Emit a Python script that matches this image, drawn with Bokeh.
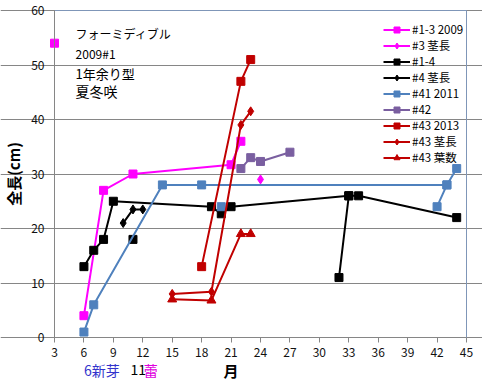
from bokeh.plotting import figure
from bokeh.models import Range1d, FixedTicker, Label, Legend, LegendItem, LinearAxis
from bokeh.embed import file_html
from bokeh.resources import INLINE

nan = float("nan")
FONT = "Noto Sans CJK JP"

# ---- data (x = 月, y = 全長 cm); nan breaks a line ----
x_13_2009 = [3, nan, 6, 8, 11, 21, 22]
y_13_2009 = [54, nan, 4, 27, 30, 31.7, 36]

x_3_stem = [24]
y_3_stem = [29]

x_14 = [6, 7, 8, 9, 19, 20, 21, 33, 34, 44, nan, 32, 33, nan, 11]
y_14 = [13, 16, 18, 25, 24, 22.7, 24, 26, 26, 22, nan, 11, 26, nan, 18]

x_4_stem = [10, 11, 12]
y_4_stem = [21, 23.5, 23.5]

x_41_2011 = [6, 7, 14, 18, 43, 44, nan, 42, 43, nan, 20]
y_41_2011 = [1, 6, 28, 28, 28, 31, nan, 24, 28, nan, 24]

x_42 = [22, 23, 24, 27]
y_42 = [31, 33, 32.3, 34]

x_43_2013 = [18, 22, 23]
y_43_2013 = [13, 47, 51]

x_43_stem = [15, 19, 22, 23]
y_43_stem = [8, 8.4, 39, 41.5]

x_43_leaf = [15, 19, 22, 23]
y_43_leaf = [7, 6.8, 19, 19]

x_ticks = list(range(3, 46, 3))
y_ticks = [0, 10, 20, 30, 40, 50, 60]
X_MIN, X_MAX = 3, 45
Y_MIN, Y_MAX = 0, 60

series = [
    ("#1-3 2009", x_13_2009, y_13_2009, "#FF00FF", "square", 8),
    ("#3 茎長", x_3_stem, y_3_stem, "#FF00FF", "diamond", 9),
    ("#1-4", x_14, y_14, "#000000", "square", 8),
    ("#4 茎長", x_4_stem, y_4_stem, "#000000", "diamond", 9),
    ("#41 2011", x_41_2011, y_41_2011, "#4F81BD", "square", 8),
    ("#42", x_42, y_42, "#7A5FA0", "square", 8),
    ("#43 2013", x_43_2013, y_43_2013, "#C00000", "square", 8),
    ("#43 茎長", x_43_stem, y_43_stem, "#C00000", "diamond", 9),
    ("#43 葉数", x_43_leaf, y_43_leaf, "#C00000", "triangle", 9),
]

BORDER = "#7F96B8"
AXIS = "#868686"

# The frame fills the whole canvas; the plotting area (3..45, 0..60) sits at
# 54..466 px horizontally and 10..337 px vertically, so texts outside it are not clipped.
W, H = 482, 385
L, R, T, B = 54, 466, 10, 337
ux = (R - L) / (X_MAX - X_MIN)
uy = (B - T) / (Y_MAX - Y_MIN)
p = figure(width=W, height=H, output_backend="svg", toolbar_location=None,
           x_range=Range1d(X_MIN - L / ux, X_MAX + (W - R) / ux),
           y_range=Range1d(Y_MIN - (H - B) / uy, Y_MAX + T / uy),
           min_border=0, min_border_left=0, min_border_right=0,
           min_border_top=0, min_border_bottom=0)

p.background_fill_color = "white"
p.border_fill_color = "white"
p.outline_line_color = None

p.xgrid.grid_line_color = None
p.ygrid.grid_line_color = AXIS
p.ygrid.grid_line_width = 1
p.ygrid.bounds = (X_MIN, X_MAX)

p.xaxis.ticker = FixedTicker(ticks=x_ticks)
p.yaxis.ticker = FixedTicker(ticks=y_ticks)
p.xaxis.fixed_location = Y_MIN
p.xaxis.bounds = (X_MIN, X_MAX)
p.yaxis.fixed_location = X_MIN
p.yaxis.bounds = (Y_MIN, Y_MAX)
for ax in (p.xaxis, p.yaxis):
    ax.axis_line_color = AXIS
    ax.major_tick_line_color = AXIS
    ax.minor_tick_line_color = None
    ax.major_tick_out = 5
    ax.major_tick_in = 0
    ax.major_label_text_font = FONT
    ax.major_label_text_font_size = "12px"
    ax.major_label_text_color = "#111111"
    ax.major_label_standoff = 5

p.yaxis.axis_label = "全長(cm)"
p.yaxis.axis_label_text_font = FONT
p.yaxis.axis_label_text_font_size = "15px"
p.yaxis.axis_label_text_font_style = "bold"
p.yaxis.axis_label_text_color = "#000000"
p.yaxis.axis_label_standoff = 4

# plot-area border on the right and top
right_ax = LinearAxis(fixed_location=X_MAX, bounds=(Y_MIN, Y_MAX), ticker=FixedTicker(ticks=[]),
                      axis_line_color=BORDER, major_tick_line_color=None,
                      minor_tick_line_color=None)
p.add_layout(right_ax, "right")
top_ax = LinearAxis(fixed_location=Y_MAX, bounds=(X_MIN, X_MAX), ticker=FixedTicker(ticks=[]),
                    axis_line_color=BORDER, major_tick_line_color=None,
                    minor_tick_line_color=None)
p.add_layout(top_ax, "above")

items = []
for name, xs, ys, color, marker, size in series:
    r1 = p.line(xs, ys, line_color=color, line_width=2)
    r2 = p.scatter(xs, ys, marker=marker, size=size, fill_color=color, line_color=color)
    items.append(LegendItem(label=name, renderers=[r1, r2]))

legend = Legend(items=items, location=(383, 220), background_fill_alpha=0,
                border_line_alpha=0, padding=0, margin=0, spacing=0,
                glyph_width=27, glyph_height=15, label_height=15,
                label_standoff=2, label_text_font=FONT,
                label_text_font_size="11.5px", label_text_color="#000000")
p.add_layout(legend)

def lab(x, y, text, size="13px", color="#000000", style="normal", align="left"):
    p.add_layout(Label(x=x, y=y, text=text, text_font=FONT, text_font_size=size,
                       text_color=color, text_font_style=style,
                       text_baseline="middle", text_align=align))

lab(5.15, 55.8, "フォーミディブル", "12px")
lab(5.15, 52.1, "2009#1", "12px")
lab(5.15, 48.4, "1年余り型", "13px")
lab(5.15, 45.3, "夏冬咲", "14px")

lab(6.0, -5.9, "6新芽", "14px", "#3333CC")
lab(10.75, -5.9, "11", "14px", "#000000")
lab(12.1, -5.9, "蕾", "14px", "#E000E0")
lab(21, -6.1, "月", "15px", "#000000", "bold", "center")

open("out.html", "w").write(file_html(p, INLINE))
